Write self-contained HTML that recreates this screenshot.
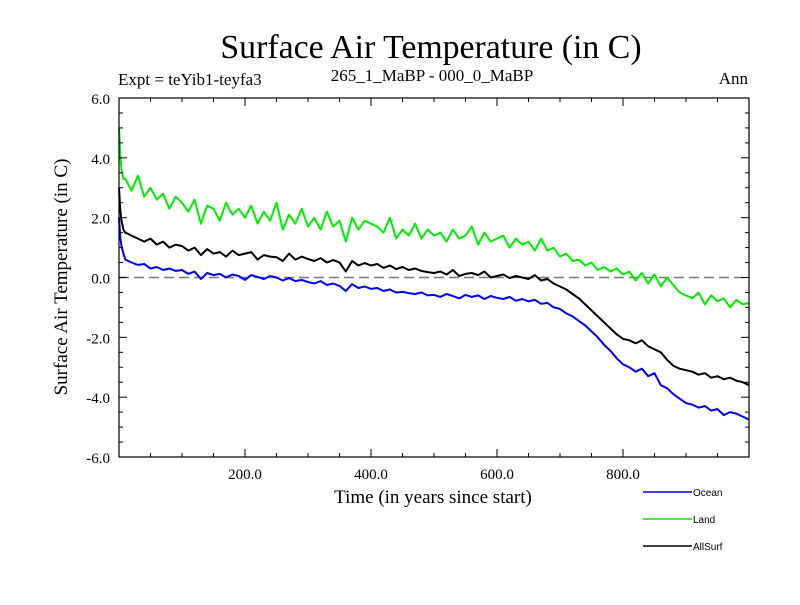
<!DOCTYPE html>
<html><head><meta charset="utf-8"><style>
body{margin:0;background:#fff}
svg text{font-family:"Liberation Serif",serif}
</style></head><body>
<svg id="chart" width="800" height="600" xmlns="http://www.w3.org/2000/svg">
<rect width="800" height="600" fill="#fff"/>
<text x="431" y="58" font-size="33.8" text-anchor="middle">Surface Air Temperature (in C)</text>
<text x="118" y="85" font-size="17">Expt = teYib1-teyfa3</text>
<text x="432" y="81" font-size="17" text-anchor="middle">265_1_MaBP - 000_0_MaBP</text>
<text x="748" y="84" font-size="17" text-anchor="end">Ann</text>
<text transform="translate(67,277) rotate(-90)" font-size="19" text-anchor="middle">Surface Air Temperature (in C)</text>
<text x="433" y="503" font-size="19" text-anchor="middle">Time (in years since start)</text>
<g id="plot"></g>
<g id="legend"></g>
</svg>
<script>
const yearsHead = [0, 2, 4, 7];
const years = yearsHead.concat(Array.from({length: 100}, (_, i) => 10 + 10 * i));
const ocean = [2.0,1.35,1.05,0.8,
0.6,0.5,0.42,0.45,0.3,0.35,0.25,0.3,0.22,0.25,
0.12,0.2,-0.05,0.15,0.08,0.12,0.0,0.1,0.05,-0.08,
0.08,0.02,-0.05,0.05,0.0,-0.1,-0.02,-0.12,-0.08,-0.15,
-0.2,-0.12,-0.25,-0.2,-0.28,-0.45,-0.22,-0.35,-0.3,-0.38,
-0.35,-0.45,-0.4,-0.5,-0.48,-0.52,-0.55,-0.5,-0.6,-0.58,
-0.65,-0.55,-0.62,-0.7,-0.58,-0.65,-0.6,-0.72,-0.62,-0.68,
-0.72,-0.65,-0.78,-0.72,-0.8,-0.75,-0.88,-0.85,-1.0,-1.05,
-1.2,-1.3,-1.45,-1.6,-1.8,-2.0,-2.25,-2.45,-2.7,-2.9,
-3.0,-3.15,-3.05,-3.3,-3.2,-3.6,-3.7,-3.9,-4.05,-4.2,
-4.25,-4.35,-4.3,-4.45,-4.4,-4.6,-4.5,-4.55,-4.65,-4.75];
const land = [5.0,4.1,3.6,3.3,
3.3,2.9,3.4,2.7,3.0,2.6,2.8,2.3,2.7,2.5,
2.2,2.6,1.8,2.4,2.3,1.9,2.5,2.1,2.3,2.0,
2.4,1.8,2.2,1.9,2.5,1.6,2.1,1.8,2.3,1.7,
2.0,1.6,2.2,1.7,1.9,1.2,2.0,1.6,1.9,1.8,
1.7,1.5,2.0,1.3,1.6,1.4,1.8,1.3,1.6,1.4,
1.5,1.2,1.6,1.3,1.4,1.7,1.1,1.5,1.2,1.3,
1.4,1.0,1.3,1.1,1.2,0.9,1.3,0.9,1.0,0.7,
0.8,0.55,0.6,0.4,0.5,0.25,0.35,0.2,0.3,0.1,
0.2,-0.1,0.15,-0.2,0.1,-0.3,0.0,-0.25,-0.5,-0.6,
-0.7,-0.5,-0.9,-0.6,-0.8,-0.7,-1.0,-0.75,-0.9,-0.85];
const allSurf = [3.0,2.25,1.9,1.6,
1.5,1.4,1.3,1.2,1.3,1.1,1.2,1.0,1.1,1.05,
0.9,1.0,0.75,0.95,0.8,0.85,0.7,0.9,0.75,0.8,
0.85,0.6,0.75,0.7,0.68,0.55,0.8,0.6,0.7,0.62,
0.55,0.65,0.5,0.58,0.5,0.2,0.55,0.4,0.48,0.4,
0.45,0.32,0.4,0.28,0.35,0.25,0.3,0.22,0.18,0.15,
0.2,0.1,0.25,0.05,0.12,0.15,0.08,0.2,0.0,0.05,
0.1,-0.02,0.05,0.0,-0.05,0.08,-0.1,-0.05,-0.2,-0.3,
-0.4,-0.55,-0.7,-0.9,-1.1,-1.3,-1.5,-1.7,-1.9,-2.05,
-2.1,-2.2,-2.1,-2.3,-2.4,-2.5,-2.75,-2.95,-3.05,-3.1,
-3.15,-3.25,-3.2,-3.35,-3.3,-3.4,-3.35,-3.45,-3.5,-3.6];
const xTickValues = [200, 400, 600, 800];
const xTickLabels = ["200.0", "400.0", "600.0", "800.0"];
const yTickValues = [6, 4, 2, 0, -2, -4, -6];
const yTickLabels = ["6.0", "4.0", "2.0", "0.0", "-2.0", "-4.0", "-6.0"];
const seriesNames = ["Ocean", "Land", "AllSurf"];

const L = 119, R = 749, T = 98, B = 457;
const xMin = 0, xMax = 1000, yMin = -6, yMax = 6;
const sx = v => L + (v - xMin) / (xMax - xMin) * (R - L);
const sy = v => B - (v - yMin) / (yMax - yMin) * (B - T);
const NS = "http://www.w3.org/2000/svg";
const plot = document.getElementById('plot');
function mk(tag, attrs, parent) {
  const e = document.createElementNS(NS, tag);
  for (const k in attrs) e.setAttribute(k, attrs[k]);
  (parent || plot).appendChild(e);
  return e;
}
const zl = mk('line', {x1: L, x2: R, y1: sy(0), y2: sy(0), stroke: '#777', 'stroke-width': 1.5, 'stroke-dasharray': '10,5'});


const series = [[ocean, '#0000ff'], [land, '#00ee00'], [allSurf, '#000000']];
series.forEach((s, i) => {
  const pts = years.map((yr, j) => sx(yr).toFixed(1) + ',' + sy(s[0][j]).toFixed(1)).join(' ');
  const p = mk('polyline', {points: pts, fill: 'none', stroke: s[1], 'stroke-width': 2, 'stroke-linejoin': 'round'});
  
  
});
const fr = mk('rect', {x: L, y: T, width: R - L, height: B - T, fill: 'none', stroke: '#000', 'stroke-width': 1.2});


for (let v = 50; v < 1000; v += 50) {
  const len = v % 200 === 0 ? 8 : 4;
  const x = sx(v);
  const t1 = mk('line', {x1: x, x2: x, y1: B, y2: B - len, stroke: '#000'});
  
  
  const t2 = mk('line', {x1: x, x2: x, y1: T, y2: T + len, stroke: '#000'});
  
  
}
xTickValues.forEach((v, i) => {
  const t = mk('text', {x: sx(v), y: B + 22, 'font-size': 15, 'text-anchor': 'middle'});
  t.textContent = xTickLabels[i];
  
  
});
for (let v = -5.5; v < 6; v += 0.5) {
  const len = Math.abs(v % 2) < 1e-9 ? 8 : 4;
  const y = sy(v);
  const t1 = mk('line', {x1: L, x2: L + len, y1: y, y2: y, stroke: '#000'});
  
  
  const t2 = mk('line', {x1: R, x2: R - len, y1: y, y2: y, stroke: '#000'});
  
  
}
yTickValues.forEach((v, i) => {
  const t = mk('text', {x: 110, y: sy(v) + 6, 'font-size': 15, 'text-anchor': 'end'});
  t.textContent = yTickLabels[i];
  
  
});
const lg = document.getElementById('legend');
const legendColors = ['#0000ff', '#00ee00', '#000000'];
seriesNames.forEach((n, i) => {
  const y = 492 + 27 * i;
  const ln = mk('line', {x1: 643, x2: 692, y1: y, y2: y, stroke: legendColors[i], 'stroke-width': 1.5}, lg);
  
  
  const t = mk('text', {x: 693, y: y + 4, 'font-size': 10, style: 'font-family:"Liberation Sans",sans-serif'}, lg);
  t.textContent = n;
  
  
});
</script>
</body></html>
